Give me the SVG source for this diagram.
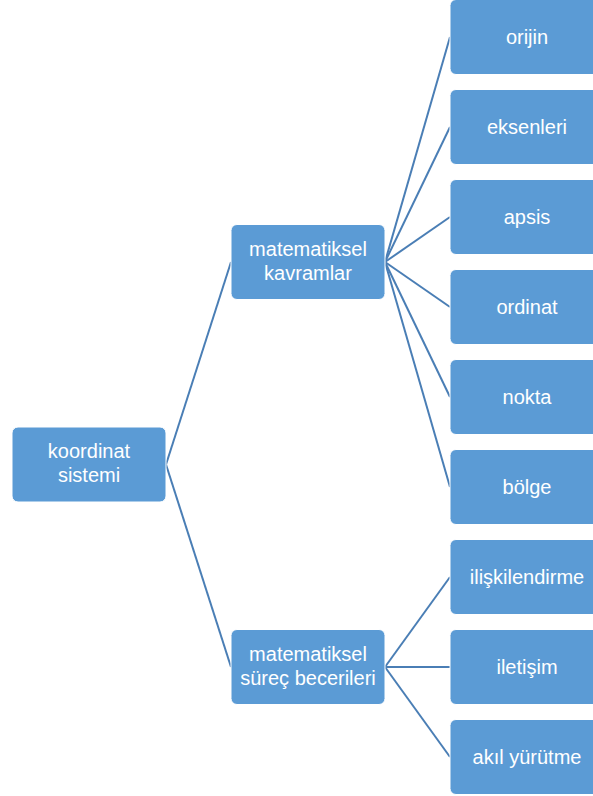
<svg xmlns="http://www.w3.org/2000/svg" width="593" height="796" viewBox="0 0 593 796">
<style>
.box{fill:#5B9BD5;stroke:#FFFFFF;stroke-width:1}
.t{fill:#FFFFFF;font-family:"Liberation Sans",Arial,sans-serif;font-size:20px;text-anchor:middle}
.c{stroke:#4A7EB5;stroke-width:2;fill:none}
</style>
<rect width="593" height="796" fill="#FFFFFF"/>
<g id="connectors">
<path class="c" d="M166,464.5 L231,262"/>
<path class="c" d="M166,464.5 L231,667"/>
<path class="c" d="M385,262 L450,37"/>
<path class="c" d="M385,262 L450,127"/>
<path class="c" d="M385,262 L450,217"/>
<path class="c" d="M385,262 L450,307"/>
<path class="c" d="M385,262 L450,397"/>
<path class="c" d="M385,262 L450,487"/>
<path class="c" d="M385,667 L450,577"/>
<path class="c" d="M385,667 L450,667"/>
<path class="c" d="M385,667 L450,757"/>
</g>
<g id="root"><rect class="box" x="12" y="427" width="154" height="75" rx="6"/><text class="t" x="89" y="458">koordinat</text><text class="t" x="89" y="482">sistemi</text></g>
<g id="mid1"><rect class="box" x="231" y="224.5" width="154" height="75" rx="6"/><text class="t" x="308" y="256">matematiksel</text><text class="t" x="308" y="280">kavramlar</text></g>
<g id="mid2"><rect class="box" x="231" y="629.5" width="154" height="75" rx="6"/><text class="t" x="308" y="661">matematiksel</text><text class="t" x="308" y="685">süreç becerileri</text></g>
<g id="leaf1"><rect class="box" x="450" y="-0.5" width="154" height="75" rx="6"/><text class="t" x="527" y="43.5">orijin</text></g>
<g id="leaf2"><rect class="box" x="450" y="89.5" width="154" height="75" rx="6"/><text class="t" x="527" y="133.5">eksenleri</text></g>
<g id="leaf3"><rect class="box" x="450" y="179.5" width="154" height="75" rx="6"/><text class="t" x="527" y="223.5">apsis</text></g>
<g id="leaf4"><rect class="box" x="450" y="269.5" width="154" height="75" rx="6"/><text class="t" x="527" y="313.5">ordinat</text></g>
<g id="leaf5"><rect class="box" x="450" y="359.5" width="154" height="75" rx="6"/><text class="t" x="527" y="403.5">nokta</text></g>
<g id="leaf6"><rect class="box" x="450" y="449.5" width="154" height="75" rx="6"/><text class="t" x="527" y="493.5">bölge</text></g>
<g id="leaf7"><rect class="box" x="450" y="539.5" width="154" height="75" rx="6"/><text class="t" x="527" y="583.5">ilişkilendirme</text></g>
<g id="leaf8"><rect class="box" x="450" y="629.5" width="154" height="75" rx="6"/><text class="t" x="527" y="673.5">iletişim</text></g>
<g id="leaf9"><rect class="box" x="450" y="719.5" width="154" height="75" rx="6"/><text class="t" x="527" y="763.5">akıl yürütme</text></g>
</svg>
